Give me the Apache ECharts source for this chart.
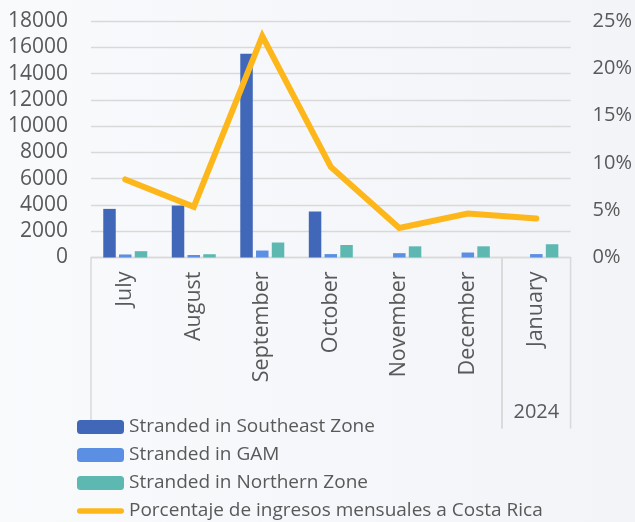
<!DOCTYPE html>
<html>
<head>
<meta charset="utf-8">
<script src="https://cdn.jsdelivr.net/npm/echarts@6/dist/echarts.min.js"></script>
<style>
html,body{margin:0;padding:0;background:#f6f7fa;}
#chart{width:635px;height:522px;}
</style>
</head>
<body>
<div id="chart"></div>
<script>
const months = ['July','August','September','October','November','December','January'];
const southeast = [3700, 3950, 15500, 3500, 0, 0, 0];
const gam = [230, 190, 530, 260, 330, 380, 260];
const northern = [480, 250, 1140, 950, 850, 850, 1010];
const pctIngresos = [0.0825, 0.0535, 0.234, 0.0958, 0.0313, 0.0465, 0.0412];
const leftTicks = {min: 0, max: 18000, interval: 2000};
const rightTicks = {min: 0, max: 0.25, interval: 0.05};
const yearLabels = ['', '2024'];
const yearStart = [0, 6];
const yearEnd = [5, 6];

const FONT = 'Open Sans';
const TXT = '#595959';
const GRID = '#d9d9d9';
const LINE_COLOR = '#fdb71a';

const yearData = yearLabels.map((l, i) => [yearStart[i], yearEnd[i], 0, l]);

const chart = echarts.init(document.getElementById('chart'));
chart.setOption({
  backgroundColor: {
    type: 'linear', x: 0, y: 0, x2: 1, y2: 0,
    colorStops: [{offset: 0, color: '#f9fafc'}, {offset: 1, color: '#f2f4f8'}]
  },
  textStyle: {fontFamily: FONT},
  grid: {left: 91, right: 64, top: 21, bottom: 264.5},
  legend: {
    orient: 'vertical', left: 77, top: 417, height: 200, padding: 0,
    itemWidth: 47, itemHeight: 14, itemGap: 8,
    textStyle: {color: TXT, fontSize: 19, lineHeight: 20, fontFamily: FONT},
    data: ['Stranded in Southeast Zone', 'Stranded in GAM', 'Stranded in Northern Zone',
      {name: 'Porcentaje de ingresos mensuales a Costa Rica',
       icon: 'path://M3,0 L50,0 A3,3 0 0 1 50,6 L3,6 A3,3 0 0 1 3,0 Z',
       itemStyle: {color: LINE_COLOR}}]
  },
  xAxis: {
    type: 'category', data: months,
    axisLine: {show: true, lineStyle: {color: GRID, width: 1.3}},
    axisTick: {show: false},
    axisLabel: {rotate: 90, margin: 14, color: TXT, fontSize: 21.5, fontFamily: FONT}
  },
  yAxis: [{
    type: 'value', min: leftTicks.min, max: leftTicks.max, interval: leftTicks.interval,
    axisLine: {show: false}, axisTick: {show: false},
    axisLabel: {margin: 23, color: TXT, fontSize: 21, fontFamily: FONT, formatter: v => String(v)},
    splitLine: {lineStyle: {color: GRID, width: 1.3}}
  }, {
    type: 'value', min: rightTicks.min, max: rightTicks.max, interval: rightTicks.interval,
    axisLine: {show: false}, axisTick: {show: false},
    axisLabel: {margin: 22, color: TXT, fontSize: 20, fontFamily: FONT,
      formatter: v => Math.round(v * 100) + '%'},
    splitLine: {show: false}
  }],
  series: [{
    name: 'Stranded in Southeast Zone', type: 'bar', data: southeast,
    barWidth: 12.5, barGap: '26%', itemStyle: {color: '#4167b8'}
  }, {
    name: 'Stranded in GAM', type: 'bar', data: gam,
    barWidth: 12.5, barGap: '26%', itemStyle: {color: '#5b8fe3'}
  }, {
    name: 'Stranded in Northern Zone', type: 'bar', data: northern,
    barWidth: 12.5, barGap: '26%', itemStyle: {color: '#5db8b1'}
  }, {
    name: 'Porcentaje de ingresos mensuales a Costa Rica', type: 'line', yAxisIndex: 1,
    data: pctIngresos, symbol: 'none', smooth: false, z: 5,
    itemStyle: {color: LINE_COLOR},
    lineStyle: {color: LINE_COLOR, width: 6, cap: 'round', join: 'miter'}
  }, {
    type: 'custom', name: 'years', clip: false, silent: true, z: 1,
    data: yearData,
    encode: {x: [0, 1], y: 2},
    renderItem: function (params, api) {
      const s = api.value(0), e = api.value(1);
      const band = api.size([1, 0])[0];
      const p0 = api.coord([s, 0]);
      const p1 = api.coord([e, 0]);
      const xl = p0[0] - band / 2, xr = p1[0] + band / 2, y0 = p0[1];
      const depth = 171;
      const children = [
        {type: 'line', shape: {x1: xl, y1: y0, x2: xl, y2: y0 + depth}, style: {stroke: GRID, lineWidth: 1.5}},
        {type: 'line', shape: {x1: xr, y1: y0, x2: xr, y2: y0 + depth}, style: {stroke: GRID, lineWidth: 1.5}},
        {type: 'text', x: (xl + xr) / 2, y: y0 + 155,
          style: {text: String(api.value(3) || ''), fill: TXT, font: '20px "Open Sans"', align: 'center', verticalAlign: 'middle'}}
      ];
      return {type: 'group', children: children};
    }
  }]
});
</script>
</body>
</html>
